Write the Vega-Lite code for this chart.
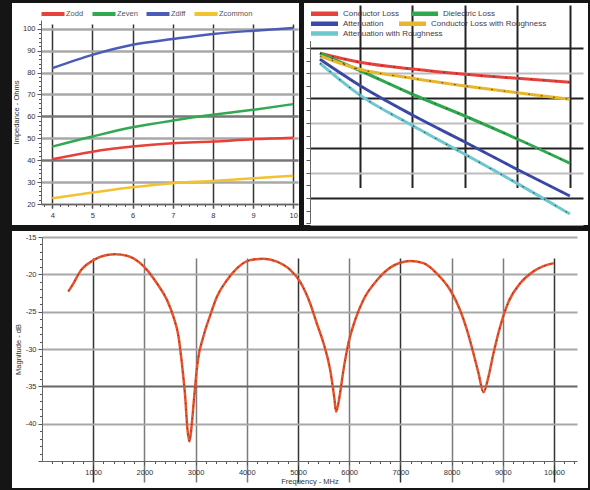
{
  "$schema": "https://vega.github.io/schema/vega-lite/v6.json",
  "background": "#151515",
  "padding": {"left": 12, "top": 3, "right": 2, "bottom": 2},
  "config": {
    "font": "Liberation Sans",
    "view": {"fill": "white", "stroke": null},
    "axis": {"labelFontSize": 7.5, "labelColor": "#333", "titleFontSize": 7.5, "titleColor": "#333", "titleFontWeight": "normal", "domainColor": "#666", "tickColor": "#555", "labelPadding": 2, "labelOverlap": false}
  },
  "datasets": {
    "impedance": [
      {"trace_width": 4, "impedance": 82.0, "series": "Zdiff"},
      {"trace_width": 5, "impedance": 88.1, "series": "Zdiff"},
      {"trace_width": 6, "impedance": 92.7, "series": "Zdiff"},
      {"trace_width": 7, "impedance": 95.3, "series": "Zdiff"},
      {"trace_width": 8, "impedance": 97.6, "series": "Zdiff"},
      {"trace_width": 9, "impedance": 99.1, "series": "Zdiff"},
      {"trace_width": 10, "impedance": 100.3, "series": "Zdiff"},
      {"trace_width": 4, "impedance": 46.2, "series": "Zeven"},
      {"trace_width": 5, "impedance": 50.8, "series": "Zeven"},
      {"trace_width": 6, "impedance": 55.0, "series": "Zeven"},
      {"trace_width": 7, "impedance": 58.1, "series": "Zeven"},
      {"trace_width": 8, "impedance": 60.7, "series": "Zeven"},
      {"trace_width": 9, "impedance": 63.0, "series": "Zeven"},
      {"trace_width": 10, "impedance": 65.6, "series": "Zeven"},
      {"trace_width": 4, "impedance": 40.4, "series": "Zodd"},
      {"trace_width": 5, "impedance": 43.9, "series": "Zodd"},
      {"trace_width": 6, "impedance": 46.2, "series": "Zodd"},
      {"trace_width": 7, "impedance": 47.7, "series": "Zodd"},
      {"trace_width": 8, "impedance": 48.5, "series": "Zodd"},
      {"trace_width": 9, "impedance": 49.6, "series": "Zodd"},
      {"trace_width": 10, "impedance": 50.3, "series": "Zodd"},
      {"trace_width": 4, "impedance": 22.6, "series": "Zcommon"},
      {"trace_width": 5, "impedance": 25.2, "series": "Zcommon"},
      {"trace_width": 6, "impedance": 27.6, "series": "Zcommon"},
      {"trace_width": 7, "impedance": 29.5, "series": "Zcommon"},
      {"trace_width": 8, "impedance": 30.5, "series": "Zcommon"},
      {"trace_width": 9, "impedance": 31.7, "series": "Zcommon"},
      {"trace_width": 10, "impedance": 32.9, "series": "Zcommon"}
    ],
    "loss": [
      {"frequency": 0.48, "loss_db": -0.21, "loss": "Conductor Loss"},
      {"frequency": 2, "loss_db": -0.57, "loss": "Conductor Loss"},
      {"frequency": 4, "loss_db": -0.84, "loss": "Conductor Loss"},
      {"frequency": 6, "loss_db": -1.05, "loss": "Conductor Loss"},
      {"frequency": 8, "loss_db": -1.21, "loss": "Conductor Loss"},
      {"frequency": 10, "loss_db": -1.37, "loss": "Conductor Loss"},
      {"frequency": 0.48, "loss_db": -0.21, "loss": "Dielectric Loss"},
      {"frequency": 2, "loss_db": -0.9, "loss": "Dielectric Loss"},
      {"frequency": 4, "loss_db": -1.85, "loss": "Dielectric Loss"},
      {"frequency": 6, "loss_db": -2.72, "loss": "Dielectric Loss"},
      {"frequency": 8, "loss_db": -3.64, "loss": "Dielectric Loss"},
      {"frequency": 10, "loss_db": -4.61, "loss": "Dielectric Loss"},
      {"frequency": 0.48, "loss_db": -0.45, "loss": "Attenuation"},
      {"frequency": 2, "loss_db": -1.5, "loss": "Attenuation"},
      {"frequency": 4, "loss_db": -2.68, "loss": "Attenuation"},
      {"frequency": 6, "loss_db": -3.76, "loss": "Attenuation"},
      {"frequency": 8, "loss_db": -4.86, "loss": "Attenuation"},
      {"frequency": 10, "loss_db": -5.92, "loss": "Attenuation"},
      {"frequency": 0.48, "loss_db": -0.32, "loss": "Conductor Loss with Roughness"},
      {"frequency": 2, "loss_db": -0.85, "loss": "Conductor Loss with Roughness"},
      {"frequency": 4, "loss_db": -1.21, "loss": "Conductor Loss with Roughness"},
      {"frequency": 6, "loss_db": -1.52, "loss": "Conductor Loss with Roughness"},
      {"frequency": 8, "loss_db": -1.79, "loss": "Conductor Loss with Roughness"},
      {"frequency": 10, "loss_db": -2.05, "loss": "Conductor Loss with Roughness"},
      {"frequency": 0.48, "loss_db": -0.61, "loss": "Attenuation with Roughness"},
      {"frequency": 2, "loss_db": -1.88, "loss": "Attenuation with Roughness"},
      {"frequency": 4, "loss_db": -3.1, "loss": "Attenuation with Roughness"},
      {"frequency": 6, "loss_db": -4.25, "loss": "Attenuation with Roughness"},
      {"frequency": 8, "loss_db": -5.42, "loss": "Attenuation with Roughness"},
      {"frequency": 10, "loss_db": -6.64, "loss": "Attenuation with Roughness"}
    ],
    "magnitude": [
      {"frequency_mhz": 514, "magnitude_db": -22.3},
      {"frequency_mhz": 615, "magnitude_db": -21.2},
      {"frequency_mhz": 746, "magnitude_db": -19.6},
      {"frequency_mhz": 1006, "magnitude_db": -18.1},
      {"frequency_mhz": 1267, "magnitude_db": -17.4},
      {"frequency_mhz": 1430, "magnitude_db": -17.3},
      {"frequency_mhz": 1658, "magnitude_db": -17.5},
      {"frequency_mhz": 1918, "magnitude_db": -18.5},
      {"frequency_mhz": 2049, "magnitude_db": -19.4},
      {"frequency_mhz": 2244, "magnitude_db": -21.2},
      {"frequency_mhz": 2439, "magnitude_db": -23.4},
      {"frequency_mhz": 2568, "magnitude_db": -25.7},
      {"frequency_mhz": 2666, "magnitude_db": -28.3},
      {"frequency_mhz": 2732, "magnitude_db": -31.9},
      {"frequency_mhz": 2797, "magnitude_db": -36.4},
      {"frequency_mhz": 2842, "magnitude_db": -40.8},
      {"frequency_mhz": 2881, "magnitude_db": -42.4},
      {"frequency_mhz": 2928, "magnitude_db": -39.9},
      {"frequency_mhz": 2973, "magnitude_db": -36.4},
      {"frequency_mhz": 3037, "magnitude_db": -31.9},
      {"frequency_mhz": 3154, "magnitude_db": -28.3},
      {"frequency_mhz": 3285, "magnitude_db": -25.5},
      {"frequency_mhz": 3416, "magnitude_db": -23.0},
      {"frequency_mhz": 3611, "magnitude_db": -20.8},
      {"frequency_mhz": 3807, "magnitude_db": -19.2},
      {"frequency_mhz": 4066, "magnitude_db": -18.1},
      {"frequency_mhz": 4326, "magnitude_db": -17.9},
      {"frequency_mhz": 4588, "magnitude_db": -18.3},
      {"frequency_mhz": 4848, "magnitude_db": -19.4},
      {"frequency_mhz": 5043, "magnitude_db": -21.0},
      {"frequency_mhz": 5238, "magnitude_db": -23.9},
      {"frequency_mhz": 5369, "magnitude_db": -26.6},
      {"frequency_mhz": 5498, "magnitude_db": -29.2},
      {"frequency_mhz": 5629, "magnitude_db": -32.8},
      {"frequency_mhz": 5707, "magnitude_db": -36.4},
      {"frequency_mhz": 5746, "magnitude_db": -38.4},
      {"frequency_mhz": 5811, "magnitude_db": -36.4},
      {"frequency_mhz": 5889, "magnitude_db": -32.8},
      {"frequency_mhz": 5986, "magnitude_db": -29.2},
      {"frequency_mhz": 6117, "magnitude_db": -26.1},
      {"frequency_mhz": 6279, "magnitude_db": -23.4},
      {"frequency_mhz": 6541, "magnitude_db": -20.8},
      {"frequency_mhz": 6801, "magnitude_db": -19.1},
      {"frequency_mhz": 6996, "magnitude_db": -18.45},
      {"frequency_mhz": 7191, "magnitude_db": -18.2},
      {"frequency_mhz": 7451, "magnitude_db": -18.5},
      {"frequency_mhz": 7713, "magnitude_db": -19.9},
      {"frequency_mhz": 7973, "magnitude_db": -22.1},
      {"frequency_mhz": 8168, "magnitude_db": -24.8},
      {"frequency_mhz": 8299, "magnitude_db": -27.4},
      {"frequency_mhz": 8428, "magnitude_db": -30.6},
      {"frequency_mhz": 8525, "magnitude_db": -33.2},
      {"frequency_mhz": 8623, "magnitude_db": -35.8},
      {"frequency_mhz": 8721, "magnitude_db": -33.7},
      {"frequency_mhz": 8818, "magnitude_db": -30.6},
      {"frequency_mhz": 8949, "magnitude_db": -27.0},
      {"frequency_mhz": 9111, "magnitude_db": -23.7},
      {"frequency_mhz": 9340, "magnitude_db": -21.2},
      {"frequency_mhz": 9600, "magnitude_db": -19.6},
      {"frequency_mhz": 9795, "magnitude_db": -18.9},
      {"frequency_mhz": 10000, "magnitude_db": -18.5}
    ]
  },
  "spacing": 6,
  "resolve": {"scale": {"x": "independent", "y": "independent", "color": "independent", "stroke": "independent", "strokeDash": "independent"}, "legend": {"color": "independent", "stroke": "independent", "strokeDash": "independent"}},
  "vconcat": [
    {
      "spacing": 5,
      "resolve": {"scale": {"x": "independent", "y": "independent", "color": "independent", "stroke": "independent", "strokeDash": "independent"}, "legend": {"color": "independent", "stroke": "independent", "strokeDash": "independent"}},
      "hconcat": [
        {
          "width": 287,
          "height": 222,
          "data": {"name": "impedance"},
          "mark": {"type": "line", "strokeWidth": 2.5, "interpolate": "monotone"},
          "encoding": {
            "x": {
              "field": "trace_width", "type": "quantitative",
              "scale": {"domain": [3.72, 10.12], "range": [29, 286], "nice": false, "zero": false},
              "axis": {
                "title": null, "offset": -21, "tickCount": 1000,
                "values": [3.8,4,4.2,4.4,4.6,4.8,5,5.2,5.4,5.6,5.8,6,6.2,6.4,6.6,6.8,7,7.2,7.4,7.6,7.8,8,8.2,8.4,8.6,8.8,9,9.2,9.4,9.6,9.8,10],
                "labelExpr": "abs(datum.value - round(datum.value)) < 0.001 ? '' + round(datum.value) : ''",
                "labelPadding": 3,
                "gridColor": "#333", "gridWidth": 1.5,
                "gridOpacity": {"condition": {"test": "abs(datum.value - round(datum.value)) < 0.001", "value": 1}, "value": 0},
                "tickSize": {"condition": {"test": "abs(datum.value - round(datum.value)) < 0.001", "value": 4}, "value": 2.5}
              }
            },
            "y": {
              "field": "impedance", "type": "quantitative",
              "scale": {"domain": [20, 104], "range": [201, 17], "nice": false, "zero": false},
              "axis": {
                "title": "Impedance - Ohms", "offset": -29, "titlePadding": 2, "tickCount": 1000,
                "values": [20,22,24,26,28,30,32,34,36,38,40,42,44,46,48,50,52,54,56,58,60,62,64,66,68,70,72,74,76,78,80,82,84,86,88,90,92,94,96,98,100,102],
                "labelExpr": "datum.value % 10 === 0 ? '' + datum.value : ''",
                "gridWidth": 2.5,
                "gridColor": {"condition": {"test": "datum.value === 40 || datum.value === 60", "value": "#777"}, "value": "#a8a8a8"},
                "gridOpacity": {"condition": {"test": "datum.value % 10 === 0", "value": 1}, "value": 0},
                "tickSize": {"condition": {"test": "datum.value % 10 === 0", "value": 4}, "value": 2.5}
              }
            },
            "color": {
              "field": "series", "type": "nominal",
              "scale": {"domain": ["Zodd", "Zeven", "Zdiff", "Zcommon"], "range": ["#e8403a", "#33a852", "#4b5cb8", "#f2c232"]},
              "legend": {
                "title": null, "orient": "none", "legendX": 37, "legendY": 7,
                "direction": "horizontal", "columns": 4,
                "symbolType": "M-6,0H6", "symbolSize": 14.7, "symbolStrokeWidth": 4,
                "labelFontSize": 7.5, "labelColor": "#555", "labelOffset": 9, "columnPadding": 0, "padding": 0
              }
            }
          }
        },
        {
          "width": 284,
          "height": 222,
          "data": {"name": "loss"},
          "layer": [
            {
              "transform": [{"filter": "datum.loss === 'Conductor Loss' || datum.loss === 'Dielectric Loss'"}],
              "mark": {"type": "line", "strokeWidth": 3, "interpolate": "monotone"},
              "encoding": {
                "x": {
                  "field": "frequency", "type": "quantitative",
                  "scale": {"domain": [0.1, 10.5], "range": [6, 279], "nice": false, "zero": false},
                  "axis": {"title": null, "labels": false, "ticks": false, "tickCount": 1000, "values": [2, 4, 6, 8, 10], "gridColor": "#222", "gridWidth": 2, "domainColor": "#999"}
                },
                "y": {
                  "field": "loss_db", "type": "quantitative",
                  "scale": {"domain": [-7, 0.3], "range": [220, 37.5], "nice": false, "zero": false},
                  "axis": {
                    "title": null, "labels": false, "offset": -6, "tickSize": 4, "tickCount": 1000,
                    "values": [-7,-6.5,-6,-5.5,-5,-4.5,-4,-3.5,-3,-2.5,-2,-1.5,-1,-0.5,0],
                    "gridWidth": 2,
                    "gridColor": {"condition": {"test": "datum.value % 2 === 0", "value": "#222"}, "value": "#bdbdbd"},
                    "gridOpacity": {"condition": {"test": "datum.value % 1 === 0 && datum.value > -7", "value": 1}, "value": 0}
                  }
                },
                "color": {
                  "field": "loss", "type": "nominal",
                  "scale": {"domain": ["Conductor Loss", "Dielectric Loss"], "range": ["#e8403a", "#2fa84f"]},
                  "legend": {
                    "title": null, "orient": "none", "legendX": 16, "legendY": 6,
                    "direction": "horizontal", "columns": 2,
                    "symbolType": "M-6,0H6", "symbolSize": 20.25, "symbolStrokeWidth": 4.5,
                    "labelFontSize": 8, "labelColor": "#4a3a45", "labelOffset": 14, "columnPadding": 2, "padding": 0
                  }
                }
              }
            },
            {
              "transform": [{"filter": "datum.loss === 'Attenuation' || datum.loss === 'Conductor Loss with Roughness'"}],
              "mark": {"type": "line", "strokeWidth": 3, "interpolate": "monotone"},
              "encoding": {
                "x": {"field": "frequency", "type": "quantitative"},
                "y": {"field": "loss_db", "type": "quantitative"},
                "stroke": {
                  "field": "loss", "type": "nominal",
                  "scale": {"domain": ["Attenuation", "Conductor Loss with Roughness"], "range": ["#3b4aa8", "#e8b62a"]},
                  "legend": {
                    "title": null, "orient": "none", "legendX": 16, "legendY": 16,
                    "direction": "horizontal", "columns": 2,
                    "symbolType": "M-6,0H6", "symbolSize": 20.25, "symbolStrokeWidth": 4.5,
                    "labelFontSize": 8, "labelColor": "#4a3a45", "labelOffset": 14, "columnPadding": 6, "padding": 0
                  }
                }
              }
            },
            {
              "transform": [{"filter": "datum.loss === 'Attenuation with Roughness'"}],
              "mark": {"type": "line", "strokeWidth": 3, "interpolate": "monotone", "stroke": "#6cc8cf"},
              "encoding": {
                "x": {"field": "frequency", "type": "quantitative"},
                "y": {"field": "loss_db", "type": "quantitative"},
                "strokeDash": {
                  "field": "loss", "type": "nominal",
                  "scale": {"domain": ["Attenuation with Roughness"], "range": [[1, 0]]},
                  "legend": {
                    "title": null, "orient": "none", "legendX": 16, "legendY": 26,
                    "symbolType": "M-6,0H6", "symbolSize": 20.25, "symbolStrokeWidth": 4.5, "symbolStrokeColor": "#6cc8cf",
                    "labelFontSize": 8, "labelColor": "#4a3a45", "labelOffset": 14, "padding": 0
                  }
                }
              }
            },
            {
              "mark": {"type": "line", "strokeWidth": 1.2, "interpolate": "monotone", "stroke": "#333", "strokeDash": [1.5, 11], "opacity": 0.8},
              "encoding": {
                "x": {"field": "frequency", "type": "quantitative"},
                "y": {"field": "loss_db", "type": "quantitative"},
                "detail": {"field": "loss", "type": "nominal"}
              }
            }
          ]
        }
      ]
    },
    {
      "width": 576,
      "height": 257,
      "data": {"name": "magnitude"},
      "layer": [
        {
          "mark": {"type": "line", "strokeWidth": 2.5, "interpolate": "monotone", "color": "#e8532b"},
          "encoding": {
            "x": {
              "field": "frequency_mhz", "type": "quantitative",
              "scale": {"domain": [0, 10450], "range": [30, 565], "nice": false, "zero": false},
              "axis": {
                "title": "Frequency - MHz", "offset": -27, "titlePadding": 2, "labelPadding": 3, "tickCount": 1000,
                "values": [200,400,600,800,1000,1200,1400,1600,1800,2000,2200,2400,2600,2800,3000,3200,3400,3600,3800,4000,4200,4400,4600,4800,5000,5200,5400,5600,5800,6000,6200,6400,6600,6800,7000,7200,7400,7600,7800,8000,8200,8400,8600,8800,9000,9200,9400,9600,9800,10000,10200,10400],
                "labelExpr": "datum.value % 1000 === 0 ? '' + datum.value : ''",
                "gridWidth": 1.5,
                "gridColor": {"condition": {"test": "indexof([1000, 5000, 7000, 10000], datum.value) >= 0", "value": "#333"}, "value": "#7a7a7a"},
                "gridOpacity": {"condition": {"test": "datum.value % 1000 === 0", "value": 1}, "value": 0},
                "tickSize": {"condition": {"test": "datum.value % 1000 === 0", "value": 4}, "value": 2.5}
              }
            },
            "y": {
              "field": "magnitude_db", "type": "quantitative",
              "scale": {"domain": [-45, -15], "range": [230, 6], "nice": false, "zero": false},
              "axis": {
                "title": "Magnitude - dB", "offset": -30, "titlePadding": 3, "tickCount": 1000,
                "values": [-45,-44,-43,-42,-41,-40,-39,-38,-37,-36,-35,-34,-33,-32,-31,-30,-29,-28,-27,-26,-25,-24,-23,-22,-21,-20,-19,-18,-17,-16,-15],
                "labelExpr": "datum.value % 5 === 0 && datum.value > -45 ? '' + datum.value : ''",
                "gridWidth": 2,
                "gridColor": {"condition": {"test": "datum.value === -35", "value": "#666"}, "value": "#a8a8a8"},
                "gridOpacity": {"condition": {"test": "datum.value % 5 === 0 && datum.value > -45", "value": 1}, "value": 0},
                "tickSize": {"condition": {"test": "datum.value % 5 === 0", "value": 4}, "value": 2.5}
              }
            }
          }
        },
        {
          "mark": {"type": "line", "strokeWidth": 1.2, "interpolate": "monotone", "stroke": "#333", "strokeDash": [1.2, 5], "opacity": 0.7},
          "encoding": {
            "x": {"field": "frequency_mhz", "type": "quantitative"},
            "y": {"field": "magnitude_db", "type": "quantitative"}
          }
        }
      ]
    }
  ]
}
